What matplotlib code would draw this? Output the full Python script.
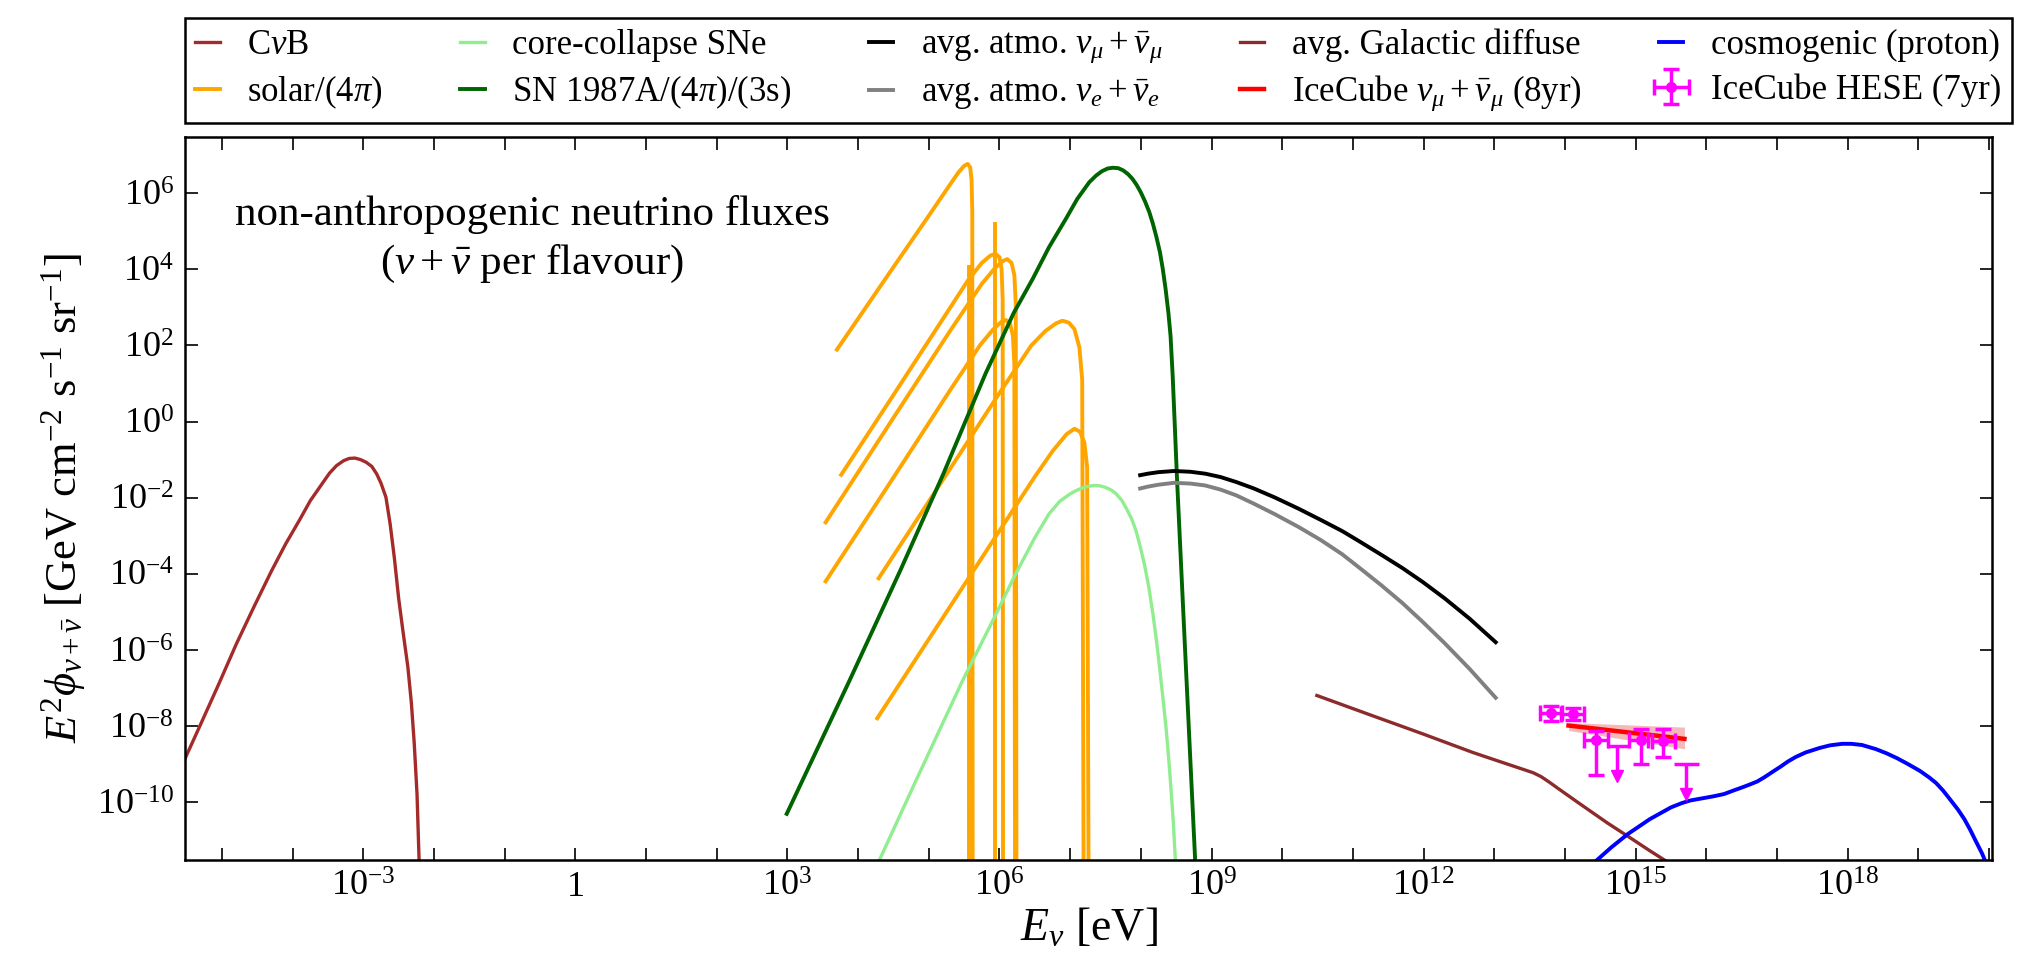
import numpy as np
import matplotlib
matplotlib.use('Agg')
import matplotlib.pyplot as plt

plt.rcParams['font.family'] = ['Liberation Serif', 'DejaVu Serif']
plt.rcParams['mathtext.fontset'] = 'custom'
plt.rcParams['mathtext.rm'] = 'Liberation Serif'
plt.rcParams['mathtext.it'] = 'Liberation Serif:italic'
plt.rcParams['mathtext.bf'] = 'Liberation Serif:bold'

# all values are log10(E / eV) and log10(E^2 phi / GeV cm^-2 s^-1 sr^-1)

# cosmic neutrino background
cnb_logE = [-5.53, -5.30, -5.05, -4.80, -4.55, -4.30, -4.10, -3.90, -3.75, -3.60, -3.48, -3.38,
            -3.28, -3.20, -3.12, -3.04, -2.96, -2.88, -2.81, -2.75, -2.68, -2.62, -2.56, -2.50,
            -2.44, -2.37, -2.32, -2.28, -2.24, -2.21]
cnb_logF = [-8.89, -7.95, -6.92, -5.86, -4.88, -3.93, -3.22, -2.58, -2.08, -1.68, -1.36, -1.16,
            -1.03, -0.97, -0.96, -1.00, -1.07, -1.18, -1.38, -1.62, -1.99, -2.70, -3.60, -4.65,
            -5.50, -6.45, -7.40, -8.45, -9.80, -11.6]

# solar components (/4pi)
pp_logE = [3.70, 4.50, 5.00, 5.29, 5.42, 5.50, 5.55, 5.585, 5.605, 5.615, 5.62]
pp_logF = [1.89, 4.06, 5.41, 6.20, 6.55, 6.72, 6.77, 6.68, 6.35, 5.5, -12]
n13_logE = [3.76, 4.50, 5.20, 5.55, 5.75, 5.87, 5.94, 6.00, 6.03, 6.045, 6.05]
n13_logF = [-1.40, 0.70, 2.70, 3.70, 4.17, 4.36, 4.41, 4.32, 4.00, 3.2, -12]
o15_logE = [3.54, 4.50, 5.30, 5.75, 5.93, 6.04, 6.11, 6.17, 6.21, 6.23, 6.24]
o15_logF = [-2.65, 0.10, 2.38, 3.62, 4.02, 4.21, 4.27, 4.17, 3.85, 3.1, -12]
f17_logE = [3.54, 4.50, 5.30, 5.73, 5.91, 6.02, 6.09, 6.15, 6.19, 6.21, 6.22]
f17_logF = [-4.20, -1.47, 0.82, 2.02, 2.42, 2.61, 2.67, 2.57, 2.25, 1.5, -12]
b8_logE = [4.29, 5.20, 6.00, 6.45, 6.65, 6.80, 6.89, 6.98, 7.06, 7.13, 7.17, 7.19]
b8_logF = [-4.12, -1.53, 0.75, 2.00, 2.38, 2.58, 2.65, 2.60, 2.43, 1.95, 1.1, -12]
hep_logE = [4.27, 5.20, 6.00, 6.50, 6.75, 6.95, 7.06, 7.14, 7.20, 7.24, 7.26]
hep_logF = [-7.80, -5.15, -2.87, -1.45, -0.78, -0.33, -0.19, -0.27, -0.55, -1.2, -12]
be7_lines_logE = [5.573, 5.936]
be7_lines_logF = [4.05, 5.19]

# supernovae
ccsn_logE = [4.30, 4.82, 5.48, 5.90, 6.23, 6.50, 6.70, 6.85, 7.00, 7.10, 7.18, 7.26, 7.34, 7.42,
             7.50, 7.58, 7.65, 7.73, 7.80, 7.87, 7.93, 7.99, 8.05, 8.11, 8.17, 8.22, 8.27, 8.32,
             8.36, 8.40, 8.43, 8.46, 8.49]
ccsn_logF = [-11.53, -9.43, -6.80, -5.25, -4.00, -3.05, -2.43, -2.10, -1.90, -1.80, -1.74, -1.70,
             -1.68, -1.69, -1.73, -1.80, -1.90, -2.07, -2.30, -2.56, -2.86, -3.28, -3.75, -4.33,
             -5.05, -5.75, -6.55, -7.40, -8.12, -9.00, -9.75, -10.55, -11.6]
sn87_logE = [2.99, 3.88, 4.60, 5.20, 5.80, 6.20, 6.47, 6.70, 6.94, 7.10, 7.27, 7.37, 7.45, 7.53,
             7.60, 7.68, 7.75, 7.82, 7.88, 7.94, 8.00, 8.06, 8.12, 8.17, 8.22, 8.27, 8.31, 8.35,
             8.39, 8.42, 8.45, 8.48, 8.51, 8.60, 8.70, 8.77]
sn87_logF = [-10.31, -6.80, -3.90, -1.40, 1.25, 2.85, 3.75, 4.58, 5.33, 5.85, 6.29, 6.47, 6.58, 6.65,
             6.67, 6.66, 6.60, 6.50, 6.38, 6.22, 6.02, 5.78, 5.50, 5.20, 4.85, 4.45, 4.01, 3.48,
             2.85, 2.25, 1.20, -0.10, -1.45, -5.00, -8.90, -11.6]

# atmospheric
atm_logE = [7.99, 8.10, 8.25, 8.47, 8.70, 8.91, 9.13, 9.35, 9.60, 9.90, 10.23, 10.55, 10.85,
            11.11, 11.40, 11.70, 11.99, 12.30, 12.65, 13.02]
atm_mu_logF = [-1.41, -1.37, -1.33, -1.30, -1.32, -1.37, -1.46, -1.59, -1.76, -2.00, -2.29, -2.59,
               -2.88, -3.17, -3.50, -3.85, -4.22, -4.65, -5.18, -5.80]
atm_e_logF = [-1.76, -1.71, -1.66, -1.61, -1.63, -1.68, -1.79, -1.94, -2.16, -2.44, -2.77, -3.12,
              -3.49, -3.87, -4.30, -4.77, -5.27, -5.83, -6.50, -7.26]

# galactic diffuse
gal_logE = [10.49, 11.20, 11.99, 12.70, 13.10, 13.39, 13.55, 13.66, 13.78, 13.90, 14.19, 14.60,
            14.89, 15.20, 15.42, 15.50]
gal_logF = [-7.20, -7.68, -8.21, -8.70, -8.95, -9.13, -9.23, -9.33, -9.48, -9.64, -10.02, -10.55,
            -10.90, -11.28, -11.54, -11.65]

# cosmogenic
cosmo_logE = [14.45, 14.65, 14.89, 15.20, 15.50, 15.65, 15.77, 15.95, 16.10, 16.25, 16.38, 16.50,
              16.60, 16.72, 16.82, 16.95, 17.05, 17.15, 17.26, 17.40, 17.60, 17.75, 17.92, 18.05,
              18.20, 18.40, 18.55, 18.70, 18.85, 19.02, 19.15, 19.25, 19.35, 19.46, 19.56, 19.65,
              19.73, 19.81, 19.90, 19.99]
cosmo_logF = [-11.53, -11.20, -10.84, -10.45, -10.14, -10.03, -9.96, -9.90, -9.85, -9.79, -9.70, -9.62,
              -9.55, -9.46, -9.35, -9.19, -9.07, -8.94, -8.82, -8.70, -8.58, -8.51, -8.47, -8.47,
              -8.50, -8.61, -8.72, -8.85, -9.00, -9.18, -9.35, -9.50, -9.70, -9.96, -10.20, -10.45,
              -10.72, -11.02, -11.35, -11.75]

# IceCube numu 8yr
ic_logE = [14.05, 15.69]
ic_logF = [-7.99, -8.34]
ic_lo = [-8.12, -8.60]
ic_hi = [-7.91, -8.03]

# IceCube HESE 7yr
hese_logE = [13.80, 14.12, 14.44, 15.07, 15.39]
hese_logF = [-7.67, -7.69, -8.36, -8.36, -8.40]
hese_Elo = [13.64, 13.95, 14.27, 14.91, 15.23]
hese_Ehi = [13.96, 14.27, 14.61, 15.18, 15.56]
hese_Flo = [-7.88, -7.84, -9.30, -9.00, -8.82]
hese_Fhi = [-7.47, -7.52, -8.14, -8.09, -8.07]
ul_logE = [14.74, 15.71]
ul_logF = [-8.52, -9.00]
ul_Elo = [14.59, 15.54]
ul_Ehi = [14.91, 15.89]
ul_arrow = [-9.32, -9.80]

x_label_decades = [-3, 0, 3, 6, 9, 12, 15, 18]
y_label_decades = [-10, -8, -6, -4, -2, 0, 2, 4, 6]


def p(v):
    return 10.0 ** np.array(v)


fig = plt.figure(figsize=(20.24, 9.55), dpi=100)
ax = fig.add_axes([0.0914, 0.0995, 0.8928, 0.757])

lw = 2.4
c_cnb = '#a52a2a'
c_sol = '#ffa500'
c_gal = '#8c2b2b'

l_cnb, = ax.plot(p(cnb_logE), p(cnb_logF), color=c_cnb, lw=lw)
for le, lf in [(pp_logE, pp_logF), (n13_logE, n13_logF), (o15_logE, o15_logF),
               (f17_logE, f17_logF), (b8_logE, b8_logF), (hep_logE, hep_logF)]:
    l_sol, = ax.plot(p(le), p(lf), color=c_sol, lw=lw + 0.4)
for le, lf in zip(be7_lines_logE, be7_lines_logF):
    ax.plot(p([le, le]), p([lf, -12]), color=c_sol, lw=lw + 0.4)
l_cc, = ax.plot(p(ccsn_logE), p(ccsn_logF), color='#90ee90', lw=lw)
l_87, = ax.plot(p(sn87_logE), p(sn87_logF), color='#006400', lw=lw + 0.4)
l_amu, = ax.plot(p(atm_logE), p(atm_mu_logF), color='black', lw=lw + 0.4)
l_ae, = ax.plot(p(atm_logE), p(atm_e_logF), color='#808080', lw=lw + 0.4)
l_gal, = ax.plot(p(gal_logE), p(gal_logF), color=c_gal, lw=lw)
l_cos, = ax.plot(p(cosmo_logE), p(cosmo_logF), color='#0000ff', lw=lw + 0.4)

ax.fill_between(p(ic_logE), p(ic_lo), p(ic_hi), color='#f08080', alpha=0.55, lw=0)
l_ic, = ax.plot(p(ic_logE), p(ic_logF), color='red', lw=lw + 0.8)

E = p(hese_logE)
F = p(hese_logF)
h_hese = ax.errorbar(E, F, xerr=[E - p(hese_Elo), p(hese_Ehi) - E],
                     yerr=[F - p(hese_Flo), p(hese_Fhi) - F],
                     fmt='o', color='magenta', ms=7, elinewidth=2.5, capsize=6, capthick=2.5)
Eu = p(ul_logE)
Fu = p(ul_logF)
ax.errorbar(Eu, Fu, xerr=[Eu - p(ul_Elo), p(ul_Ehi) - Eu], yerr=[Fu - p(ul_arrow), 0 * Fu],
            fmt='none', ecolor='magenta', elinewidth=2.5, capsize=0)
ax.plot(Eu, p(ul_arrow), 'v', color='magenta', ms=9)

ax.set_xscale('log')
ax.set_yscale('log')

xt = np.arange(-5, 21)
ax.set_xticks(10.0 ** xt)
xl = []
for d in xt:
    if d in x_label_decades:
        xl.append('$1$' if d == 0 else '$10^{%d}$' % d)
    else:
        xl.append('')
ax.set_xticklabels(xl)
ax.xaxis.set_minor_locator(matplotlib.ticker.NullLocator())
ax.set_yticks(10.0 ** np.array(y_label_decades))
ax.set_yticklabels(['$10^{%d}$' % d for d in y_label_decades])
ax.yaxis.set_minor_locator(matplotlib.ticker.NullLocator())
# limits after the ticks, set_xticks widens the view otherwise
ax.set_xlim(3e-6, 1.1e20)
ax.set_ylim(3e-12, 3e7)
ax.tick_params(which='both', direction='in', top=True, right=True, length=9, width=1.2,
               labelsize=26, pad=8)
for s in ax.spines.values():
    s.set_linewidth(1.8)

ax.set_xlabel(r'$E_\nu$ [eV]', fontsize=33, labelpad=2)
ax.set_ylabel(r'$E^2\phi_{\nu+\bar{\nu}}$ [GeV cm$^{-2}$ s$^{-1}$ sr$^{-1}$]', fontsize=32, labelpad=6)

ax.text(0.192, 0.858, 'non-anthropogenic neutrino fluxes\n' + r'($\nu+\bar{\nu}$ per flavour)',
        transform=ax.transAxes, ha='center', va='center', fontsize=31, linespacing=1.3)

handles = [l_cnb, l_sol, l_cc, l_87, l_amu, l_ae, l_gal, l_ic, l_cos, h_hese]
labels = [r'C$\nu$B', r'solar$/(4\pi)$', 'core-collapse SNe', r'SN 1987A$/(4\pi)/(3\mathrm{s})$',
          r'avg. atmo. $\nu_\mu+\bar{\nu}_\mu$', r'avg. atmo. $\nu_e+\bar{\nu}_e$',
          'avg. Galactic diffuse', r'IceCube $\nu_\mu+\bar{\nu}_\mu$ (8yr)',
          'cosmogenic (proton)', 'IceCube HESE (7yr)']
leg = ax.legend(handles, labels, ncol=5, loc='lower left', bbox_to_anchor=(0, 1.019, 1.011, 0.156),
                mode='expand', borderaxespad=0, fontsize=25, handlelength=0.7, handletextpad=0.8,
                labelspacing=0.32, borderpad=0.3, fancybox=False, framealpha=1, edgecolor='black')
leg.get_frame().set_linewidth(1.8)

fig.savefig('out.png', dpi=100)
